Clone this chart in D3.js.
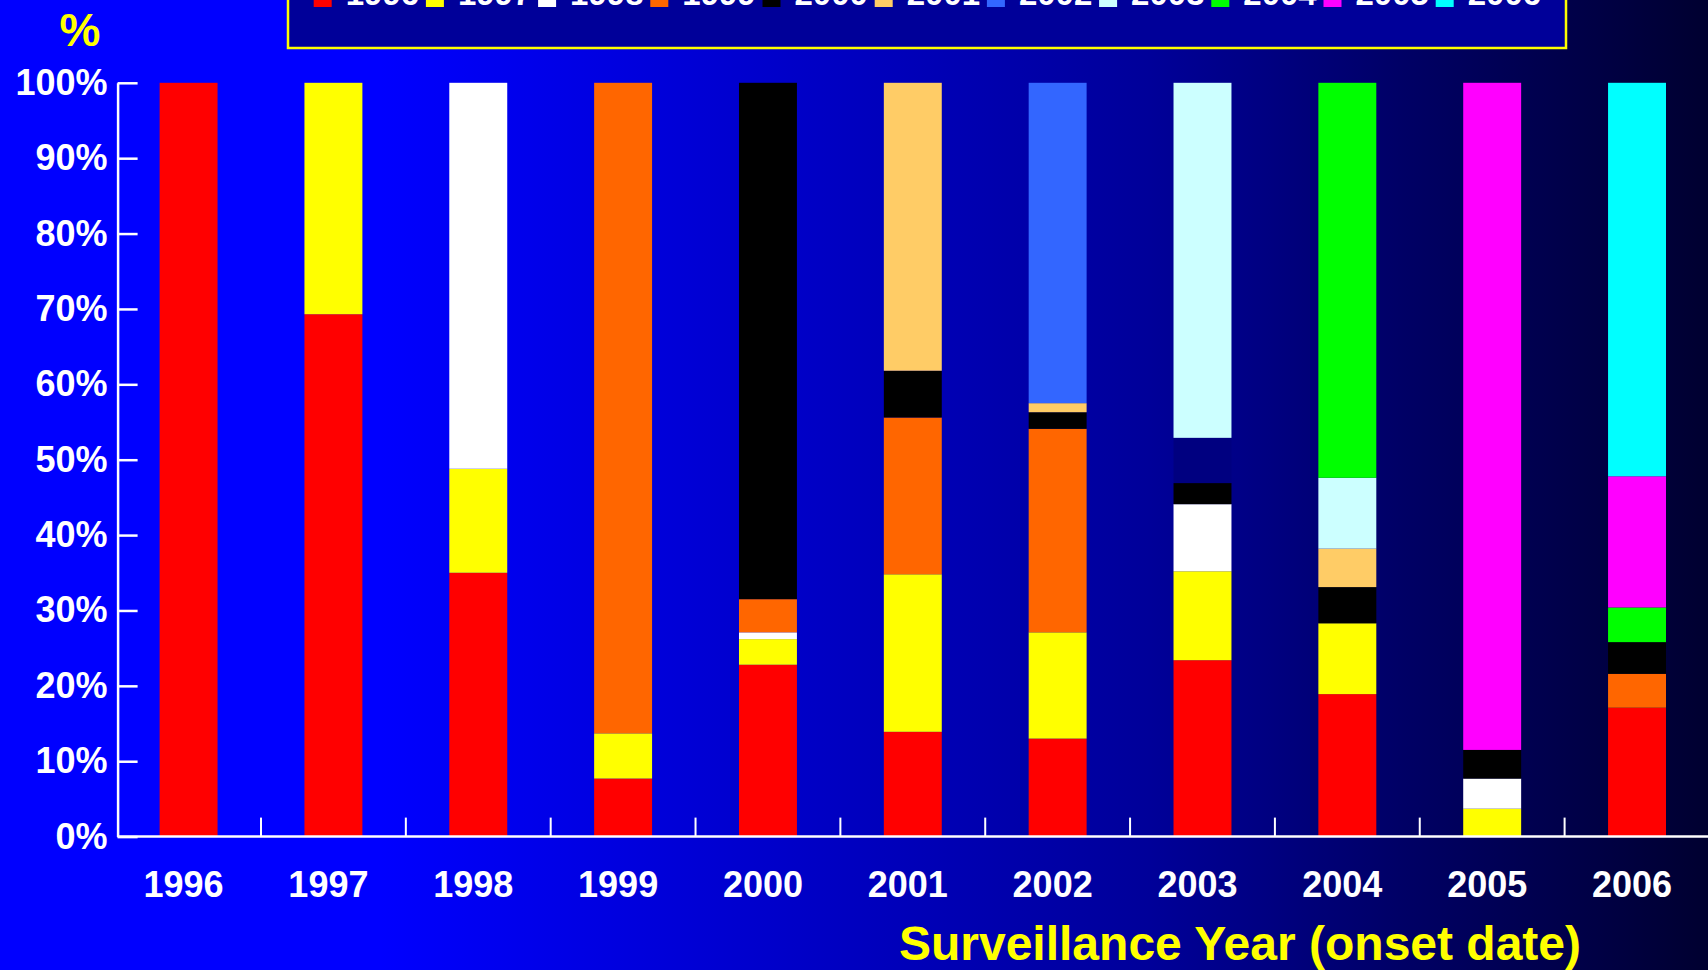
<!DOCTYPE html>
<html>
<head>
<meta charset="utf-8">
<script src="https://cdnjs.cloudflare.com/ajax/libs/d3/7.8.5/d3.min.js"></script>
<style>
  body { margin: 0; background: #000033; }
  svg { display: block; font-family: "Liberation Sans", Arial, sans-serif; font-weight: bold; }
</style>
</head>
<body>
<div id="chart"></div>
<script>
var width = 1708, height = 970;

// surveillance years (x categories) and the onset-year series stacked in each bar
var years = ["1996", "1997", "1998", "1999", "2000", "2001", "2002", "2003", "2004", "2005", "2006"];
var seriesNames = ["1996", "1997", "1998", "1999", "2000", "2001", "2002", "2003", "2004", "2005", "2006"];
var seriesColors = ["#FF0000", "#FFFF00", "#FFFFFF", "#FF6600", "#000000", "#FFCC66",
                    "#3366FF", "#CCFFFF", "#00FF00", "#FF00FF", "#00FFFF"];

// percent of each surveillance year, one array per series
var s1996 = [100, 69.3, 35.0, 7.7, 22.8, 13.9, 13.0, 23.4, 18.9, 0, 17.1];
var s1997 = [0, 30.7, 13.8, 6.0, 3.4, 20.9, 14.1, 11.8, 9.4, 3.7, 0];
var s1998 = [0, 0, 51.2, 0, 0.9, 0, 0, 8.9, 0, 4.0, 0];
var s1999 = [0, 0, 0, 86.3, 4.4, 20.8, 27.0, 0, 0, 0, 4.5];
var s2000 = [0, 0, 0, 0, 68.5, 6.2, 2.2, 2.8, 4.8, 3.8, 4.2];
var s2001 = [0, 0, 0, 0, 0, 38.2, 1.2, 0, 5.1, 0, 0];
var s2002 = [0, 0, 0, 0, 0, 0, 42.5, 6.0, 0, 0, 0];
var s2003 = [0, 0, 0, 0, 0, 0, 0, 47.1, 9.4, 0, 0];
var s2004 = [0, 0, 0, 0, 0, 0, 0, 0, 52.4, 0, 4.6];
var s2005 = [0, 0, 0, 0, 0, 0, 0, 0, 0, 88.5, 17.4];
var s2006 = [0, 0, 0, 0, 0, 0, 0, 0, 0, 0, 52.2];
var seriesValues = [s1996, s1997, s1998, s1999, s2000, s2001, s2002, s2003, s2004, s2005, s2006];

// one segment drawn in navy in the original (2002 series inside the 2003 bar)
var colorOverrides = [{ year: "2003", series: "2002", color: "#000080" }];

var yTicks = [0, 10, 20, 30, 40, 50, 60, 70, 80, 90, 100];

var table = years.map(function(y, i) {
  var row = { year: y };
  seriesNames.forEach(function(s, j) { row[s] = seriesValues[j][i]; });
  return row;
});

var svg = d3.select("#chart").append("svg")
  .attr("width", width)
  .attr("height", height);

// background: bright blue fading to near black on the right
var defs = svg.append("defs");
var grad = defs.append("linearGradient")
  .attr("id", "bg")
  .attr("gradientUnits", "userSpaceOnUse")
  .attr("x1", 0).attr("y1", 0).attr("x2", width).attr("y2", 0);
[[0, "#0000FF"], [380, "#0000FF"], [760, "#0000CC"], [1150, "#000099"],
 [1400, "#000066"], [1600, "#000044"], [1708, "#000030"]].forEach(function(s) {
  grad.append("stop").attr("offset", s[0] / width).attr("stop-color", s[1]);
});
svg.append("rect").attr("width", width).attr("height", height).attr("fill", "url(#bg)");

var x = d3.scaleBand()
  .domain(years)
  .range([117.6, 1708])
  .paddingInner(0.6)
  .paddingOuter(0.29);

var y = d3.scaleLinear()
  .domain([0, 100])
  .range([836.6, 82.8]);

var stack = d3.stack().keys(seriesNames);
var layers = stack(table);

var colorOf = function(series, year) {
  var o = colorOverrides.filter(function(c) { return c.series == series && c.year == year; });
  if (o.length) return o[0].color;
  return seriesColors[seriesNames.indexOf(series)];
};

svg.append("g").selectAll("g")
  .data(layers)
  .enter().append("g")
  .each(function(layer) {
    d3.select(this).selectAll("rect")
      .data(layer.filter(function(d) { return d[1] - d[0] > 0; }))
      .enter().append("rect")
      .attr("x", function(d) { return x(d.data.year); })
      .attr("width", x.bandwidth())
      .attr("y", function(d) { return y(d[1]); })
      .attr("height", function(d) { return y(d[0]) - y(d[1]); })
      .attr("fill", function(d) { return colorOf(layer.key, d.data.year); });
  });

// y axis: ticks point inward, labels on the left
var yAxis = svg.append("g")
  .attr("transform", "translate(" + x.range()[0] + ",0)")
  .call(d3.axisLeft(y)
    .tickValues(yTicks)
    .tickSizeInner(-20)
    .tickSizeOuter(0)
    .tickPadding(10)
    .tickFormat(function(d) { return d + "%"; }));
yAxis.select(".domain").attr("stroke", "#fff").attr("stroke-width", 2.5);
yAxis.selectAll(".tick line").attr("stroke", "#fff").attr("stroke-width", 2.5);
yAxis.selectAll(".tick text")
  .attr("fill", "#fff")
  .attr("font-size", 36)
  .attr("font-weight", "bold")
  .attr("font-family", "'Liberation Sans', Arial, sans-serif");

// x axis: baseline, separator ticks between categories, year labels
var step = x.step();
var bounds = years.slice(1).map(function(yr) {
  return x(yr) - (step - x.bandwidth()) / 2;
});
svg.append("line")
  .attr("x1", x.range()[0]).attr("x2", width)
  .attr("y1", y(0)).attr("y2", y(0))
  .attr("stroke", "#fff").attr("stroke-width", 2.5);
svg.append("g").selectAll("line")
  .data(bounds)
  .enter().append("line")
  .attr("x1", function(d) { return d; })
  .attr("x2", function(d) { return d; })
  .attr("y1", y(0))
  .attr("y2", y(0) - 19)
  .attr("stroke", "#fff").attr("stroke-width", 2);

svg.append("g").selectAll("text")
  .data(years)
  .enter().append("text")
  .attr("x", function(d) { return x(d) + x.bandwidth() / 2 - 5; })
  .attr("y", 897)
  .attr("text-anchor", "middle")
  .attr("fill", "#fff")
  .attr("font-size", 36)
  .text(function(d) { return d; });

// axis titles
svg.append("text")
  .attr("x", 80)
  .attr("y", 46)
  .attr("text-anchor", "middle")
  .attr("fill", "#FFFF00")
  .attr("font-size", 46)
  .text("%");

svg.append("text")
  .attr("x", 1240)
  .attr("y", 960)
  .attr("text-anchor", "middle")
  .attr("fill", "#FFFF00")
  .attr("font-size", 48)
  .text("Surveillance Year (onset date)");

// legend box, mostly cut off by the top edge
var legend = svg.append("g");
legend.append("rect")
  .attr("x", 288).attr("y", -20)
  .attr("width", 1278).attr("height", 68)
  .attr("fill", "#000099")
  .attr("stroke", "#FFFF00")
  .attr("stroke-width", 2.5);

var item = legend.selectAll("g.item")
  .data(seriesNames)
  .enter().append("g")
  .attr("class", "item")
  .attr("transform", function(d, i) { return "translate(" + (313.7 + i * 112.2) + ",0)"; });
item.append("rect")
  .attr("y", -11).attr("width", 18).attr("height", 18)
  .attr("fill", function(d, i) { return seriesColors[i]; });
item.append("text")
  .attr("x", 32).attr("y", 5)
  .attr("fill", "#fff")
  .attr("font-size", 33)
  .text(function(d) { return d; });
</script>
</body>
</html>
